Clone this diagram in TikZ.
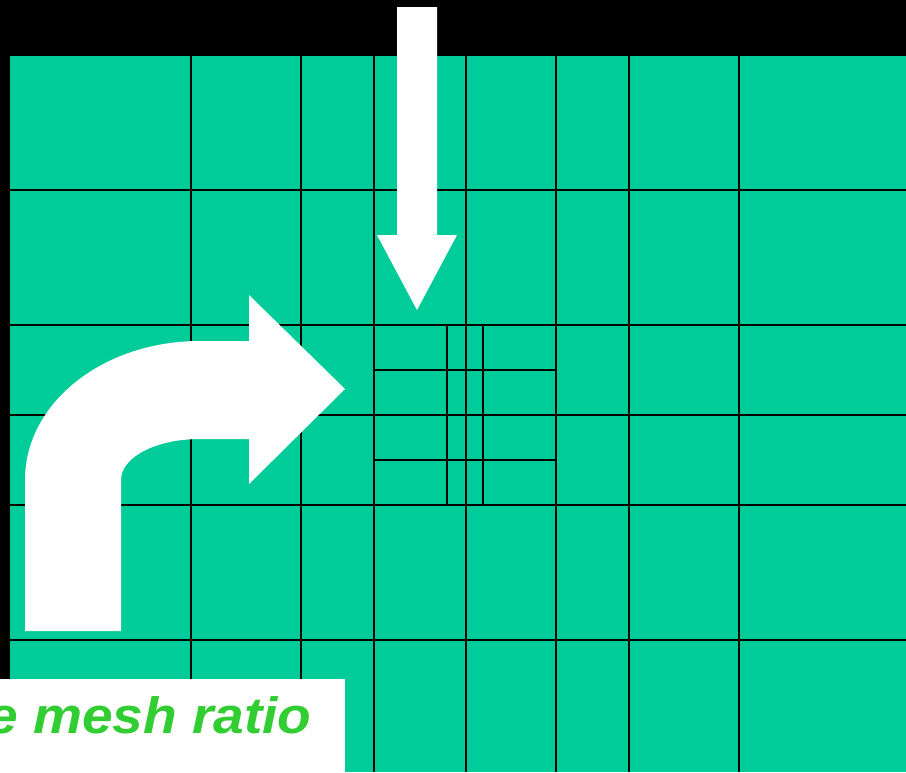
\documentclass[tikz,border=0pt]{standalone}
\usepackage{fontspec}
\setmainfont{Liberation Sans}
\newfontfamily\lblfont[FakeStretch=1.08]{Liberation Sans}
\usepackage{tikz}
\usepackage{xcolor}
\usetikzlibrary{positioning}
\definecolor{mshgreen}{RGB}{0,204,153}
\definecolor{mshtext}{RGB}{50,205,50}
\tikzset{
  mshline/.style={draw=black, line width=1.8pt},
  mshfine/.style={draw=black, line width=1.6pt},
  mshwhite/.style={fill=white, draw=none},
  mshlabel/.style={font=\lblfont\bfseries\itshape\fontsize{51}{60}\selectfont, text=mshtext, inner sep=0pt}
}

\begin{document}
\begin{tikzpicture}[x=1pt, y=-1pt]
  \useasboundingbox (0,0) rectangle (906,772);
  \fill[black] (0,0) rectangle (906,772);
  \fill[mshgreen] (10,56) rectangle (906,772);
  % coarse mesh
  \foreach \gx in {191,301,374,466,556,629,739} {
    \draw[mshline] (\gx,56) -- (\gx,772);
  }
  \foreach \gy in {190,325,415,505,640} {
    \draw[mshline] (10,\gy) -- (906,\gy);
  }
  % refined block
  \foreach \gx in {447,483} {
    \draw[mshfine] (\gx,325) -- (\gx,505);
  }
  \foreach \gy in {370,460} {
    \draw[mshfine] (374,\gy) -- (556,\gy);
  }
  % arrows
  \fill[mshwhite] (397,7) -- (437,7) -- (437,235) -- (457,235) -- (417,310)
    -- (377,235) -- (397,235) -- cycle;
  \fill[mshwhite] (25,631) -- (25,480) .. controls (25,403) and (103,341) .. (200,341)
    -- (249,341) -- (249,295) -- (345,389) -- (249,484) -- (249,439) -- (200,439)
    .. controls (156,439) and (121,457) .. (121,480) -- (121,631) -- cycle;
  % caption box
  \fill[mshwhite] (0,679) rectangle (345,772);
  \begin{scope}
    \clip (0,679) rectangle (345,772);
    \node[mshlabel, anchor=base west] (lbl) at (-13,733) {e mesh ratio};
  \end{scope}
\end{tikzpicture}
\end{document}
